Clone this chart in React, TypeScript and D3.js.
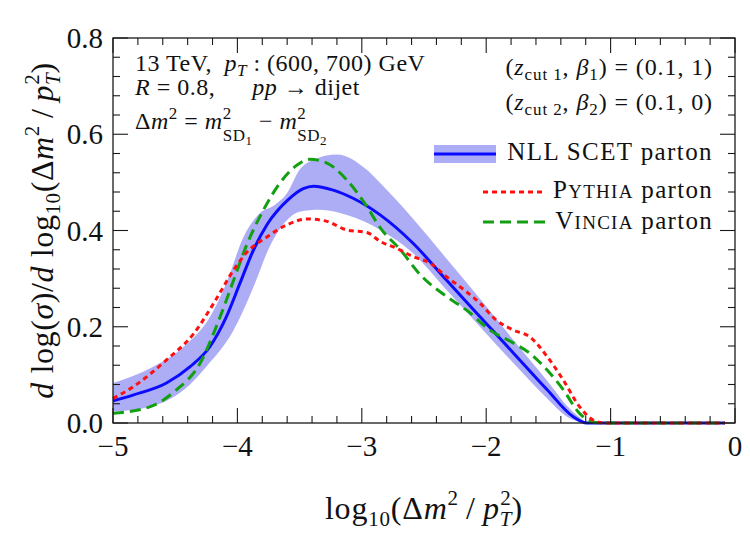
import React from "react";
import * as d3 from "d3";

const W = 750;
const H = 538;
const M = { top: 38, right: 15, bottom: 115, left: 113 };

const SERIF = "'Liberation Serif', 'Times New Roman', Times, serif";
const BLUE = "#0b0bff";
const BAND = "#adadf6";
const RED = "#ff1010";
const GREEN = "#12a012";

// NLL SCET parton, central value
const nllX = [-5, -4.84, -4.57, -4.38, -4.22, -4.09, -3.98, -3.87, -3.76, -3.6, -3.47, -3.39, -3.23, -3.07, -2.85, -2.59, -2.32, -2.05, -1.78, -1.51, -1.3, -1.19, -0.08];
const nllY = [0.046, 0.058, 0.083, 0.117, 0.159, 0.22, 0.29, 0.36, 0.413, 0.462, 0.487, 0.492, 0.484, 0.467, 0.432, 0.374, 0.297, 0.221, 0.145, 0.069, 0.013, 0, 0];

// NLL scale-variation band, upper and lower edges
const bandHiX = [-5, -4.7, -4.43, -4.22, -4.09, -3.95, -3.82, -3.7, -3.6, -3.5, -3.39, -3.2, -2.96, -2.85, -2.59, -2.32, -2.05, -1.78, -1.51, -1.33, -1.19];
const bandHi = [0.083, 0.114, 0.159, 0.221, 0.29, 0.387, 0.436, 0.453, 0.478, 0.526, 0.547, 0.558, 0.526, 0.498, 0.425, 0.342, 0.258, 0.172, 0.088, 0.03, 0];
const bandLoX = [-5, -4.7, -4.43, -4.25, -4.03, -3.87, -3.74, -3.6, -3.5, -3.34, -3.12, -2.85, -2.59, -2.32, -2.05, -1.78, -1.51, -1.35, -1.22];
const bandLo = [0.024, 0.034, 0.069, 0.117, 0.193, 0.283, 0.367, 0.422, 0.439, 0.443, 0.432, 0.401, 0.353, 0.277, 0.2, 0.124, 0.051, 0.013, 0];

// Pythia parton
const pythiaX = [-5, -4.84, -4.57, -4.35, -4.19, -4.03, -3.93, -3.76, -3.6, -3.44, -3.28, -3.12, -2.96, -2.85, -2.72, -2.59, -2.45, -2.32, -2.18, -2.05, -1.92, -1.78, -1.65, -1.51, -1.38, -1.25, -1.14, -1.05, -0.08];
const pythiaY = [0.051, 0.075, 0.131, 0.186, 0.249, 0.318, 0.353, 0.387, 0.412, 0.424, 0.419, 0.401, 0.396, 0.377, 0.363, 0.346, 0.332, 0.304, 0.277, 0.249, 0.214, 0.193, 0.179, 0.138, 0.089, 0.034, 0.006, 0, 0];

// Vincia parton
const vinciaX = [-5, -4.7, -4.49, -4.3, -4.17, -4.03, -3.93, -3.79, -3.66, -3.52, -3.42, -3.28, -3.12, -2.96, -2.85, -2.69, -2.53, -2.32, -2.16, -1.97, -1.78, -1.65, -1.51, -1.38, -1.25, -1.17, -1.08, -0.08];
const vinciaY = [0.02, 0.034, 0.069, 0.124, 0.2, 0.297, 0.367, 0.443, 0.498, 0.536, 0.548, 0.54, 0.505, 0.45, 0.405, 0.36, 0.308, 0.263, 0.235, 0.193, 0.166, 0.145, 0.11, 0.069, 0.02, 0.005, 0, 0];

const xTicks = [-5, -4, -3, -2, -1, 0];
const xTickLabels = ["\u22125", "\u22124", "\u22123", "\u22122", "\u22121", "0"];
const yTicks = [0, 0.2, 0.4, 0.6, 0.8];
const yTickLabels = ["0.0", "0.2", "0.4", "0.6", "0.8"];

const zip = (xs: number[], ys: number[]) => xs.map((v, i) => [v, ys[i]] as [number, number]);

const serif = { fontFamily: SERIF };

export default function App() {
  const x = d3.scaleLinear().domain([-5, 0]).range([M.left, W - M.right]);
  const y = d3.scaleLinear().domain([0, 0.8]).range([H - M.bottom, M.top]);
  const x0 = x.range()[0], x1 = x.range()[1];
  const y0 = y.range()[0], y1 = y.range()[1];

  const line = d3
    .line<[number, number]>()
    .x((d) => x(d[0]))
    .y((d) => y(d[1]))
    .curve(d3.curveMonotoneX);

  const hi = line(zip(bandHiX, bandHi)) || "";
  const lo = line(zip(bandLoX, bandLo).reverse()) || "";
  const bandPath = hi + lo.replace(/^M/, "L") + "Z";

  const xMinor = d3.range(0, 26).map((i) => -5 + i * 0.2);
  const yMinor = d3.range(0, 21).map((i) => i * 0.04);
  const isMajor = (v: number, step: number) => Math.abs(v / step - Math.round(v / step)) < 1e-6;

  const MAJ = 15;
  const MIN = 7;

  return (
    <svg width={W} height={H} style={{ position: "absolute", left: 0, top: 0, background: "#fff", ...serif }}>
      {/* curves */}
      <path d={bandPath} fill={BAND} stroke="none" />
      <path d={line(zip(nllX, nllY)) || ""} fill="none" stroke={BLUE} strokeWidth={3} />
      <path d={line(zip(vinciaX, vinciaY)) || ""} fill="none" stroke={GREEN} strokeWidth={3} strokeDasharray="11,6" />
      <path d={line(zip(pythiaX, pythiaY)) || ""} fill="none" stroke={RED} strokeWidth={3} strokeDasharray="5,4" />

      {/* frame and ticks */}
      <rect x={x0} y={y1} width={x1 - x0} height={y0 - y1} fill="none" stroke="#1a1a1a" strokeWidth={1.3} />
      <g stroke="#1a1a1a" strokeWidth={1.1}>
        {xMinor.map((v, i) => {
          const len = isMajor(v, 1) ? MAJ : MIN;
          return (
            <g key={"xt" + i}>
              <line x1={x(v)} x2={x(v)} y1={y0} y2={y0 - len} />
              <line x1={x(v)} x2={x(v)} y1={y1} y2={y1 + len} />
            </g>
          );
        })}
        {yMinor.map((v, i) => {
          const len = isMajor(v, 0.2) ? MAJ : MIN;
          return (
            <g key={"yt" + i}>
              <line x1={x0} x2={x0 + len} y1={y(v)} y2={y(v)} />
              <line x1={x1} x2={x1 - len} y1={y(v)} y2={y(v)} />
            </g>
          );
        })}
      </g>

      {/* tick labels */}
      <g fontSize={29} fill="#111" style={serif}>
        {xTicks.map((v, i) => (
          <text key={"xl" + i} x={x(v)} y={y0 + 33} textAnchor="middle" style={serif}>
            {xTickLabels[i]}
          </text>
        ))}
        {yTicks.map((v, i) => (
          <text key={"yl" + i} x={x0 - 10} y={y(v) + 10} textAnchor="end" style={serif}>
            {yTickLabels[i]}
          </text>
        ))}
      </g>

      {/* axis titles */}
      <text x={(x0 + x1) / 2} y={519} textAnchor="middle" fontSize={32} fill="#111" style={{ ...serif, letterSpacing: 0.8 }}>
        log<tspan fontSize={21} dy={7}>10</tspan>
        <tspan dy={-7}>(Δ</tspan>
        <tspan fontStyle="italic">m</tspan>
        <tspan fontSize={21} dy={-14}>2</tspan>
        <tspan dy={14}>{"\u2009/\u2009"}</tspan>
        <tspan fontStyle="italic">p</tspan>
        <tspan fontSize={21} fontStyle="italic" dy={7}>T</tspan>
        <tspan fontSize={21} dx={-12} dy={-21}>2</tspan>
        <tspan dy={14}>)</tspan>
      </text>

      <text transform={`translate(53,${(y0 + y1) / 2}) rotate(-90)`} textAnchor="middle" fontSize={32} fill="#111" style={{ ...serif, letterSpacing: 0.6 }}>
        <tspan fontStyle="italic">d</tspan> log(<tspan fontStyle="italic">σ</tspan>)/<tspan fontStyle="italic">d</tspan> log
        <tspan fontSize={21} dy={7}>10</tspan>
        <tspan dy={-7}>(Δ</tspan>
        <tspan fontStyle="italic">m</tspan>
        <tspan fontSize={21} dy={-14}>2</tspan>
        <tspan dy={14}>{"\u2009/\u2009"}</tspan>
        <tspan fontStyle="italic">p</tspan>
        <tspan fontSize={21} fontStyle="italic" dy={7}>T</tspan>
        <tspan fontSize={21} dx={-12} dy={-21}>2</tspan>
        <tspan dy={14}>)</tspan>
      </text>

      {/* process annotations */}
      <g fontSize={24} fill="#111" style={serif}>
        <text x={135} y={71} style={{ ...serif, letterSpacing: 0.5 }}>
          13 TeV,{"\u2002"}<tspan fontStyle="italic">p</tspan>
          <tspan fontSize={17} fontStyle="italic" dy={5}>T</tspan>
          <tspan dy={-5}> : (600, 700) GeV</tspan>
        </text>
        <text x={135} y={95} style={{ ...serif, letterSpacing: 0.5 }}>
          <tspan fontStyle="italic">R</tspan> = 0.8,{"\u2003\u2002"}
          <tspan fontStyle="italic">pp</tspan> → dijet
        </text>
        <text x={135} y={129} style={{ ...serif, letterSpacing: 0.5 }}>
          Δ<tspan fontStyle="italic">m</tspan>
          <tspan fontSize={17} dy={-10}>2</tspan>
          <tspan dy={10}> = </tspan>
          <tspan fontStyle="italic">m</tspan>
          <tspan fontSize={17} dy={-10}>2</tspan>
          <tspan fontSize={17} dx={-9} dy={22}>SD</tspan>
          <tspan fontSize={13} dy={4}>1</tspan>
          <tspan dy={-16}> − </tspan>
          <tspan fontStyle="italic">m</tspan>
          <tspan fontSize={17} dy={-10}>2</tspan>
          <tspan fontSize={17} dx={-9} dy={22}>SD</tspan>
          <tspan fontSize={13} dy={4}>2</tspan>
        </text>

        <text x={713} y={75} textAnchor="end" style={{ ...serif, letterSpacing: 0.9 }}>
          (<tspan fontStyle="italic">z</tspan>
          <tspan fontSize={17} dy={5}>cut 1</tspan>
          <tspan dy={-5}>, </tspan>
          <tspan fontStyle="italic">β</tspan>
          <tspan fontSize={17} dy={5}>1</tspan>
          <tspan dy={-5}>) = (0.1, 1)</tspan>
        </text>
        <text x={713} y={110} textAnchor="end" style={{ ...serif, letterSpacing: 0.9 }}>
          (<tspan fontStyle="italic">z</tspan>
          <tspan fontSize={17} dy={5}>cut 2</tspan>
          <tspan dy={-5}>, </tspan>
          <tspan fontStyle="italic">β</tspan>
          <tspan fontSize={17} dy={5}>2</tspan>
          <tspan dy={-5}>) = (0.1, 0)</tspan>
        </text>
      </g>

      {/* legend */}
      <g fontSize={25} fill="#111" style={serif}>
        <rect x={434} y={145} width={62} height={18} fill={BAND} />
        <line x1={434} x2={496} y1={154} y2={154} stroke={BLUE} strokeWidth={3} />
        <text x={713} y={160} textAnchor="end" style={{ ...serif, letterSpacing: 1.4 }}>NLL SCET parton</text>

        <line x1={483} x2={543} y1={192} y2={192} stroke={RED} strokeWidth={3} strokeDasharray="5,4" />
        <text x={713} y={198} textAnchor="end" style={{ ...serif, letterSpacing: 1.3 }}>
          P<tspan fontSize={19}>YTHIA</tspan> parton
        </text>

        <line x1={483} x2={547} y1={222} y2={222} stroke={GREEN} strokeWidth={3} strokeDasharray="11,6" />
        <text x={713} y={229} textAnchor="end" style={{ ...serif, letterSpacing: 1.3 }}>
          V<tspan fontSize={19}>INCIA</tspan> parton
        </text>
      </g>
    </svg>
  );
}
